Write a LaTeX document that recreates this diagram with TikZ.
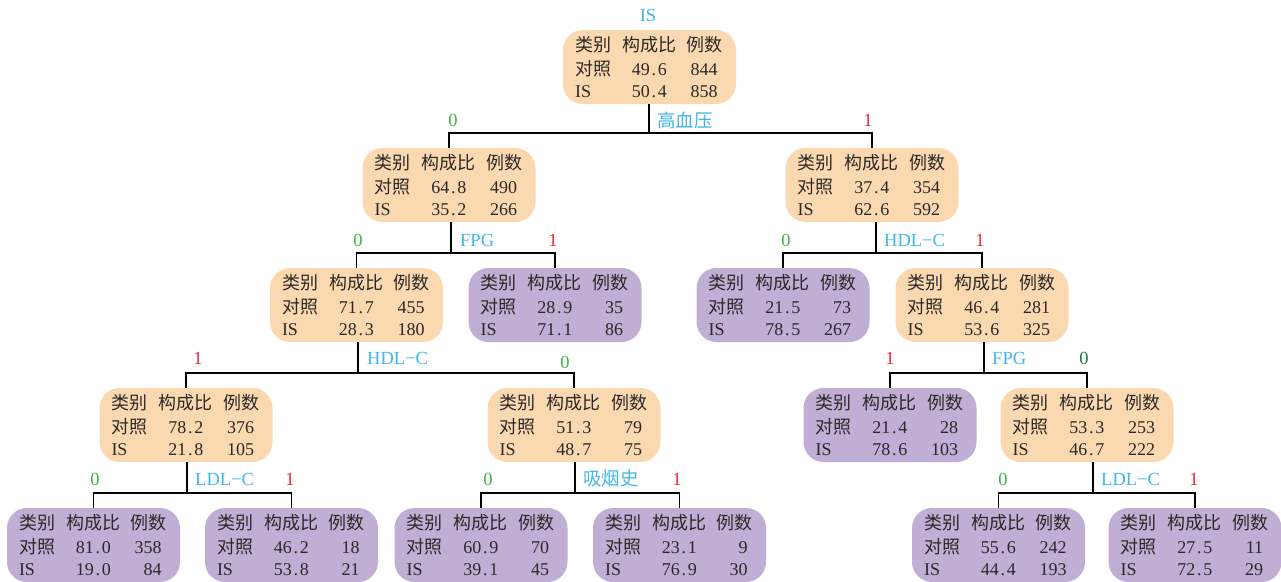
\documentclass[tikz,border=0pt]{standalone}
\usepackage{fontspec}
\setmainfont{Liberation Serif}
\newfontfamily\cjk{Noto Sans CJK SC}
\newcommand\pd{\kern1.8pt.\kern1.8pt}
\definecolor{boxor}{RGB}{251,217,176}
\definecolor{boxpu}{RGB}{192,174,212}
\definecolor{txt}{RGB}{45,40,40}
\definecolor{labblue}{RGB}{66,182,230}
\definecolor{labgreen}{RGB}{60,180,75}
\definecolor{labred}{RGB}{232,40,60}
\definecolor{labdkgreen}{RGB}{30,120,60}
\tikzset{
  tbox/.style={minimum width=173pt,minimum height=74pt,inner sep=0pt,rounded corners=20pt,draw=none},
  orbox/.style={tbox,fill=boxor},
  pubox/.style={tbox,fill=boxpu},
  tx/.style={inner sep=0pt,text=txt,font=\fontsize{18}{21}\selectfont},
  conn/.style={draw=black,line width=1.8pt},
  lab/.style={inner sep=0pt,font=\fontsize{18.5}{21}\selectfont},
  feat/.style={lab,text=labblue,anchor=west},
  zero/.style={lab,text=labgreen},
  one/.style={lab,text=labred},
}
\newcommand\treenode[8]{%
  \node[#4] (#1) at (#2,-#3) {};
  \node[tx,anchor=base west] (#1-h1) at ([xshift=12pt,yshift=16pt]#1.west) {\cjk 类别};
  \node[tx,anchor=base] (#1-h2) at ([xshift=86.5pt,yshift=16pt]#1.west) {\cjk 构成比};
  \node[tx,anchor=base] (#1-h3) at ([xshift=142pt,yshift=16pt]#1.west) {\cjk 例数};
  \node[tx,anchor=base west] (#1-r1) at ([xshift=12pt,yshift=-8pt]#1.west) {\cjk 对照};
  \node[tx,anchor=base] (#1-p1) at ([xshift=86.5pt,yshift=-8pt]#1.west) {#5};
  \node[tx,anchor=base east] (#1-c1) at ([xshift=155pt,yshift=-8pt]#1.west) {#6};
  \node[tx,anchor=base west] (#1-r2) at ([xshift=12pt,yshift=-30pt]#1.west) {IS};
  \node[tx,anchor=base] (#1-p2) at ([xshift=86.5pt,yshift=-30pt]#1.west) {#7};
  \node[tx,anchor=base east] (#1-c2) at ([xshift=155pt,yshift=-30pt]#1.west) {#8};
}
\begin{document}
\begin{tikzpicture}[x=1pt,y=1pt]
\useasboundingbox (0,0) rectangle (1281,-581);
% nodes
\treenode{root}{649.5}{67}{orbox}{49\pd6}{844}{50\pd4}{858}
\treenode{n1}{449}{185}{orbox}{64\pd8}{490}{35\pd2}{266}
\treenode{n2}{872}{185}{orbox}{37\pd4}{354}{62\pd6}{592}
\treenode{n11}{356.5}{305}{orbox}{71\pd7}{455}{28\pd3}{180}
\treenode{n12}{555}{305}{pubox}{28\pd9}{35}{71\pd1}{86}
\treenode{n21}{783}{305}{pubox}{21\pd5}{73}{78\pd5}{267}
\treenode{n22}{982}{305}{orbox}{46\pd4}{281}{53\pd6}{325}
\treenode{n111}{186}{425}{orbox}{78\pd2}{376}{21\pd8}{105}
\treenode{n112}{574}{425}{orbox}{51\pd3}{79}{48\pd7}{75}
\treenode{n221}{890}{425}{pubox}{21\pd4}{28}{78\pd6}{103}
\treenode{n222}{1087}{425}{orbox}{53\pd3}{253}{46\pd7}{222}
\treenode{n1111}{93.5}{545}{pubox}{81\pd0}{358}{19\pd0}{84}
\treenode{n1112}{291.5}{545}{pubox}{46\pd2}{18}{53\pd8}{21}
\treenode{n1121}{481}{545}{pubox}{60\pd9}{70}{39\pd1}{45}
\treenode{n1122}{679.5}{545}{pubox}{23\pd1}{9}{76\pd9}{30}
\treenode{n2221}{998.5}{545}{pubox}{55\pd6}{242}{44\pd4}{193}
\treenode{n2222}{1195}{545}{pubox}{27\pd5}{11}{72\pd5}{29}
% top label
\node[lab,text=labblue] (toplab) at (648,-15) {IS};
% branch points
\coordinate (b0) at (649,-133);
\coordinate (b1) at (451,-253);
\coordinate (b2) at (876,-253);
\coordinate (b11) at (358,-373);
\coordinate (b22) at (984,-373);
\coordinate (b111) at (187,-493);
\coordinate (b112) at (575,-493);
\coordinate (b222) at (1093,-493);
% connectors
\draw[conn] (b0 |- root.south) -- (b0);
\draw[conn] (n1.north) |- (b0) -| (n2.north);
\draw[conn] (b1 |- n1.south) -- (b1);
\draw[conn] (n11.north) |- (b1) -| (n12.north);
\draw[conn] (b2 |- n2.south) -- (b2);
\draw[conn] (n21.north) |- (b2) -| (n22.north);
\draw[conn] (b11 |- n11.south) -- (b11);
\draw[conn] (n111.north) |- (b11) -| (n112.north);
\draw[conn] (b22 |- n22.south) -- (b22);
\draw[conn] (n221.north) |- (b22) -| (n222.north);
\draw[conn] (b111 |- n111.south) -- (b111);
\draw[conn] (n1111.north) |- (b111) -| (n1112.north);
\draw[conn] (b112 |- n112.south) -- (b112);
\draw[conn] (n1121.north) |- (b112) -| (n1122.north);
\draw[conn] (b222 |- n222.south) -- (b222);
\draw[conn] (n2221.north) |- (b222) -| (n2222.north);
% branch labels
\node[zero] (l0a) at (453,-120) {0};
\node[feat] (f0) at (657,-120) {\cjk 高血压};
\node[one] (l0b) at (868,-120) {1};
\node[zero] (l1a) at (358,-240) {0};
\node[feat] (f1) at (460,-240) {FPG};
\node[one] (l1b) at (553,-240) {1};
\node[zero] (l2a) at (786,-240) {0};
\node[feat] (f2) at (884,-240) {HDL−C};
\node[one] (l2b) at (980,-240) {1};
\node[one] (l11a) at (198,-358) {1};
\node[feat] (f11) at (367,-358) {HDL−C};
\node[zero] (l11b) at (565,-362) {0};
\node[one] (l22a) at (890,-358) {1};
\node[feat] (f22) at (992,-358) {FPG};
\node[lab,text=labdkgreen] (l22b) at (1084,-358) {0};
\node[zero] (l111a) at (95,-479) {0};
\node[feat] (f111) at (195,-479) {LDL−C};
\node[one] (l111b) at (290,-479) {1};
\node[zero] (l112a) at (488,-479) {0};
\node[feat] (f112) at (583,-479) {\cjk 吸烟史};
\node[one] (l112b) at (677,-479) {1};
\node[zero] (l222a) at (1003,-479) {0};
\node[feat] (f222) at (1101,-479) {LDL−C};
\node[one] (l222b) at (1194,-479) {1};
\end{tikzpicture}
\end{document}
